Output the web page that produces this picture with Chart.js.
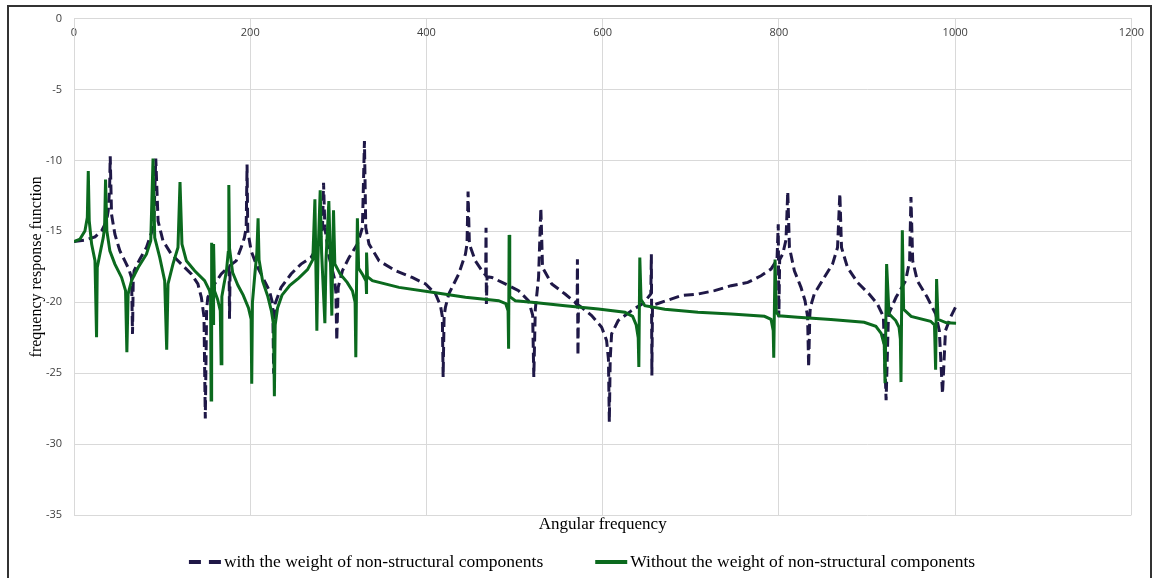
<!DOCTYPE html>
<html>
<head>
<meta charset="utf-8">
<script src="https://cdn.jsdelivr.net/npm/chart.js@4.4.0/dist/chart.umd.min.js"></script>
<style>
    html, body { margin: 0; padding: 0; background: #fff; }
    #wrap { position: relative; width: 1152px; height: 578px; overflow: hidden; }
    #frame { position: absolute; left: 7px; top: 5px; width: 1141px; height: 600px; border: 2px solid #333; pointer-events: none; }
</style>
</head>
<body>
<div id="wrap">
    <canvas id="chart" width="1152" height="578"></canvas>
    <div id="frame"></div>
</div>
<script>
// series 1: with the weight of non-structural components (dashed)
var freqWith = [0, 12.4, 23.8, 31.3, 37.0, 38.8, 40.4, 41.1, 42.6, 46.4, 52.0, 57.7, 62.2, 65.3, 66.4, 67.2, 68.2, 74.7, 82.2, 88.6,
    90.9, 92.8, 95.4, 101.0, 110.5, 121.8, 133.1, 140.6, 144.5, 147.5, 149.0, 150.5, 151.9, 159.5, 167.1, 174.0, 176.0, 176.5, 177.2, 184.0,
    189.7, 193.4, 195.4, 196.4, 197.2, 201.0, 206.6, 214.2, 221.7, 225.5, 226.6, 228.1, 235.0, 246.3, 257.6, 268.9, 278.3, 282.0, 283.2, 284.7,
    289.6, 295.3, 297.2, 298.2, 299.8, 304.6, 312.2, 321.6, 327.3, 329.6, 331.1, 334.8, 346.2, 365.0, 383.8, 399.0, 410.3, 415.9, 418.0, 418.9,
    420.0, 421.5, 425.3, 436.6, 444.2, 446.0, 447.2, 448.7, 455.5, 463.0, 467.2, 467.6, 468.0, 468.8, 474.3, 489.4, 504.5, 515.8, 520.5, 521.8,
    523.5, 527.2, 529.8, 531.7, 542.2, 557.3, 568.7, 571.0, 571.3, 571.9, 572.5, 576.1, 587.4, 598.8, 604.4, 606.5, 607.5, 608.5, 610.1, 617.6,
    632.7, 645.9, 654.6, 655.2, 655.8, 656.5, 661.0, 689.3, 708.1, 727.0, 745.8, 764.7, 779.7, 791.0, 797.8, 799.2, 799.9, 800.8, 804.3, 808.0,
    810.0, 811.9, 817.5, 825.0, 829.6, 832.5, 833.7, 835.0, 835.6, 840.1, 851.4, 860.8, 866.5, 869.1, 871.0, 877.8, 889.1, 902.3, 911.7, 918.5,
    921.6, 924.0, 924.6, 932.9, 943.8, 948.3, 949.8, 951.8, 957.0, 968.3, 977.8, 982.0, 985.6, 989.0, 994.7, 1000.3];
var valsWith = [-15.72, -15.62, -15.39, -14.97, -14.27, -13.56, -12.0, -9.70, -13.8, -15.2, -16.37, -17.08, -17.66, -18.25, -22.23, -18.5, -17.78, -16.96, -16.14, -14.97,
    -13.8, -9.86, -14.27, -15.67, -16.61, -17.31, -18.01, -18.71, -19.65, -21.0, -28.2, -20.5, -19.65, -18.71, -18.01, -17.6, -17.5, -21.17, -17.4, -17.08,
    -16.14, -15.44, -14.74, -10.28, -14.97, -16.37, -17.31, -18.25, -19.18, -20.12, -25.04, -20.12, -18.95, -18.01, -17.31, -16.84, -15.9, -14.74, -11.57, -14.74,
    -16.84, -18.25, -19.3, -22.7, -18.95, -17.78, -16.84, -15.9, -14.74, -8.64, -14.74, -15.9, -17.08, -17.78, -18.25, -18.71, -19.42, -20.24, -21.0, -25.27,
    -21.0, -20.36, -19.42, -18.01, -16.61, -15.9, -12.2, -15.9, -17.08, -17.78, -18.1, -14.74, -20.12, -18.2, -18.25, -18.71, -19.18, -19.89, -20.9, -25.27,
    -20.5, -18.25, -13.37, -17.55, -18.71, -19.42, -20.0, -20.2, -16.96, -23.75, -20.2, -20.36, -20.94, -21.76, -22.7, -24.0, -28.44, -24.0, -22.23, -21.29,
    -20.59, -20.08, -19.42, -16.61, -25.16, -20.2, -20.12, -19.53, -19.42, -19.18, -18.83, -18.6, -18.13, -17.66, -17.0, -14.5, -21.06, -17.0, -16.6, -15.6,
    -12.2, -16.14, -17.78, -18.95, -19.89, -21.0, -24.57, -21.0, -20.36, -19.42, -18.25, -17.31, -16.14, -12.34, -16.14, -17.55, -18.6, -19.42, -20.12, -21.0,
    -26.91, -21.5, -20.82, -19.65, -18.48, -17.08, -12.58, -17.08, -18.48, -19.65, -20.82, -22.0, -26.44, -22.0, -21.06, -20.36];

// series 2: without the weight of non-structural components (solid green)
var freqWithout = [0, 6.8, 12.4, 15.1, 16.2, 17.3, 20.0, 23.8, 25.6, 26.4, 29.4, 33.2, 34.7, 35.8, 37.3, 40.7, 46.4, 54.0, 58.5, 60.0,
    61.4, 65.3, 72.8, 82.2, 87.1, 89.7, 91.6, 97.3, 102.9, 105.2, 106.7, 112.3, 118.0, 120.3, 122.5, 127.5, 136.9, 148.2, 153.8, 155.0,
    155.6, 156.2, 157.0, 157.8, 158.4, 159.5, 163.0, 166.0, 167.0, 167.8, 170.0, 173.0, 175.0, 175.7, 176.5, 180.0, 186.0, 192.0, 198.0, 201.0,
    201.7, 202.5, 205.0, 207.5, 208.9, 210.0, 214.0, 220.0, 224.0, 226.5, 227.4, 228.3, 231.0, 236.0, 245.0, 255.0, 265.0, 271.0, 273.4, 274.5,
    275.6, 276.8, 279.4, 281.0, 284.7, 286.0, 289.2, 291.0, 292.6, 293.5, 294.5, 296.0, 302.0, 310.0, 316.0, 319.0, 319.8, 320.6, 321.6, 323.0,
    328.0, 331.4, 331.8, 332.2, 333.0, 338.6, 368.8, 406.5, 444.2, 481.9, 490.0, 492.6, 493.2, 493.8, 494.5, 500.8, 519.6, 557.3, 595.0, 625.2,
    634.0, 638.0, 640.3, 641.0, 642.1, 643.5, 647.8, 670.4, 708.1, 745.8, 783.6, 791.0, 793.5, 794.1, 795.6, 797.0, 800.0, 821.3, 858.9, 896.7,
    910.0, 916.0, 919.5, 920.4, 922.2, 924.9, 932.5, 936.3, 937.8, 938.5, 940.0, 941.5, 950.0, 972.1, 976.5, 977.8, 978.9, 980.5, 990.0, 1001.0];
var valsWithout = [-15.72, -15.55, -14.97, -14.03, -10.75, -14.27, -15.9, -17.07, -22.47, -17.55, -16.6, -15.44, -14.74, -11.34, -14.97, -16.37, -17.31, -18.25, -19.18, -23.52,
    -19.42, -18.48, -17.55, -16.61, -15.67, -9.86, -15.44, -16.84, -18.48, -23.35, -18.71, -17.31, -16.14, -11.52, -15.9, -17.07, -17.78, -18.48, -19.18, -19.6,
    -26.9, -15.8, -19.3, -21.5, -15.9, -19.2, -19.8, -20.6, -24.34, -19.6, -18.8, -17.8, -16.5, -11.74, -16.2, -17.9, -18.8, -19.5, -20.4, -21.2,
    -25.74, -20.0, -18.2, -16.5, -14.08, -17.0, -18.5, -19.6, -20.6, -21.6, -26.63, -21.6, -20.4, -19.5, -18.8, -18.3, -17.7, -17.0, -12.74, -17.5,
    -22.0, -17.0, -12.11, -16.5, -21.48, -17.0, -12.86, -17.0, -20.94, -17.2, -13.52, -17.3, -18.0, -18.6, -19.2, -20.0, -23.87, -19.0, -14.08, -17.6,
    -18.1, -18.5, -19.42, -16.49, -18.2, -18.48, -18.95, -19.3, -19.65, -19.89, -20.1, -20.6, -23.28, -15.25, -19.6, -19.89, -20.0, -20.24, -20.47, -20.71,
    -21.0, -21.6, -22.5, -24.57, -16.84, -19.8, -20.24, -20.5, -20.71, -20.82, -20.99, -21.2, -22.0, -23.91, -16.98, -20.7, -20.95, -21.06, -21.22, -21.41,
    -21.7, -22.2, -23.0, -25.7, -17.31, -20.82, -21.29, -21.76, -22.6, -25.63, -14.92, -20.5, -21.0, -21.34, -21.6, -24.76, -18.36, -21.2, -21.45, -21.48];

var labelWith = 'with the weight of non-structural components';
var labelWithout = 'Without the weight of non-structural components';

function toPoints(xs, ys) {
    return xs.map(function (x, i) { return { x: x, y: ys[i] }; });
}

var tickFont = { family: '"Open Sans", "Liberation Sans", sans-serif', size: 11 };
var serifFont = '"Liberation Serif", "Times New Roman", serif';

// legend drawn under the axis title, like the original
var bottomLegend = {
    id: 'bottomLegend',
    afterDraw: function (chart) {
        var ctx = chart.ctx;
        var sets = chart.data.datasets;
        ctx.save();
        ctx.font = '17.5px ' + serifFont;
        var sampleW = 32, gapText = 3, gapItems = 52;
        var widths = sets.map(function (d) { return sampleW + gapText + ctx.measureText(d.label).width; });
        var total = widths.reduce(function (a, b) { return a + b; }, 0) + gapItems * (sets.length - 1);
        var x = chart.width / 2 - total / 2 + 6;
        var y = 562;
        sets.forEach(function (d, i) {
            ctx.strokeStyle = d.borderColor;
            ctx.lineWidth = 4;
            ctx.setLineDash(d.borderDash ? [12, 8] : []);
            ctx.beginPath();
            ctx.moveTo(x, y);
            ctx.lineTo(x + sampleW, y);
            ctx.stroke();
            ctx.setLineDash([]);
            ctx.fillStyle = '#000';
            ctx.textBaseline = 'middle';
            ctx.textAlign = 'left';
            ctx.fillText(d.label, x + sampleW + gapText, y);
            x += widths[i] + gapItems;
        });
        ctx.restore();
    }
};

var chart = new Chart(document.getElementById('chart'), {
    type: 'line',
    data: {
        datasets: [{
            label: labelWith,
            data: toPoints(freqWith, valsWith),
            borderColor: '#1f1847',
            borderWidth: 3,
            borderDash: [10, 5],
            pointRadius: 0,
            tension: 0,
            order: 1
        }, {
            label: labelWithout,
            data: toPoints(freqWithout, valsWithout),
            borderColor: '#0b6a1e',
            borderWidth: 3,
            pointRadius: 0,
            tension: 0,
            order: 0
        }]
    },
    options: {
        responsive: false,
        animation: false,
        layout: { padding: { left: 0, right: 17, top: 0, bottom: 0 } },
        plugins: {
            legend: { display: false },
            tooltip: { enabled: false }
        },
        scales: {
            x: {
                type: 'linear',
                position: 'top',
                min: 0,
                max: 1200,
                grid: { color: '#d9d9d9', drawTicks: false },
                border: { color: '#d9d9d9' },
                ticks: {
                    stepSize: 200,
                    mirror: true,
                    padding: 8,
                    maxRotation: 0,
                    color: '#404040',
                    font: tickFont,
                    callback: function (v) { return String(v); }
                },
                afterFit: function (s) { s.height = 17; }
            },
            xTitle: {
                type: 'linear',
                position: 'bottom',
                min: 0,
                max: 1200,
                grid: { display: false },
                border: { display: false },
                ticks: { display: false },
                title: {
                    display: true,
                    text: 'Angular frequency',
                    color: '#000',
                    font: { family: serifFont, size: 17 },
                    padding: { top: 0, bottom: 43 }
                },
                afterFit: function (s) { s.height = 63; }
            },
            y: {
                min: -35,
                max: 0,
                grid: { color: '#d9d9d9', drawTicks: false },
                border: { color: '#d9d9d9' },
                ticks: {
                    stepSize: 5,
                    padding: 12,
                    color: '#404040',
                    font: tickFont
                },
                title: {
                    display: true,
                    text: 'frequency response function',
                    color: '#000',
                    font: { family: serifFont, size: 16 },
                    padding: { top: 27, bottom: 0 }
                },
                afterFit: function (s) { s.width = 74; }
            }
        }
    },
    plugins: [bottomLegend]
});
</script>
</body>
</html>
